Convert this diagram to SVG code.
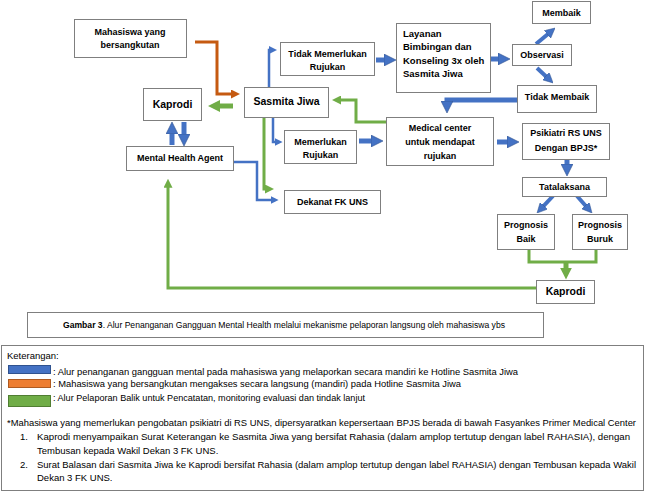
<svg xmlns="http://www.w3.org/2000/svg" width="646" height="493" viewBox="0 0 646 493">
<style>
.box{fill:#fff;stroke:#7f7f7f;stroke-width:1}
text{font-family:"Liberation Sans",Arial,sans-serif;fill:#000}
.lbl{font-size:9px;font-weight:bold;text-anchor:middle}
.big{font-size:10.5px}
.note{font-size:9.5px}
.cb{fill:none;stroke:#4472C4;stroke-width:2.5}
.cg{fill:none;stroke:#70AD47;stroke-width:3}
.co{fill:none;stroke:#C55A11;stroke-width:3}
.tb{fill:none;stroke:#4472C4;stroke-width:5}
.tbd{fill:none;stroke:#4472C4;stroke-width:4}
.tg{fill:none;stroke:#70AD47;stroke-width:5}
</style>
<defs>
<marker id="hB" markerUnits="userSpaceOnUse" markerWidth="8" markerHeight="8" viewBox="0 0 10 10" refX="3" refY="5" orient="auto"><path d="M0,0 L10,5 L0,10 z" fill="#4472C4"/></marker>
<marker id="hG" markerUnits="userSpaceOnUse" markerWidth="9" markerHeight="9" viewBox="0 0 10 10" refX="3" refY="5" orient="auto"><path d="M0,0 L10,5 L0,10 z" fill="#70AD47"/></marker>
<marker id="hO" markerUnits="userSpaceOnUse" markerWidth="9" markerHeight="9" viewBox="0 0 10 10" refX="3" refY="5" orient="auto"><path d="M0,0 L10,5 L0,10 z" fill="#C55A11"/></marker>
<marker id="HB" markerUnits="userSpaceOnUse" markerWidth="12" markerHeight="12" viewBox="0 0 10 10" refX="2" refY="5" orient="auto"><path d="M0,0 L10,5 L0,10 z" fill="#4472C4" stroke="#2F528F" stroke-width="0.5"/></marker>
<marker id="MB" markerUnits="userSpaceOnUse" markerWidth="10" markerHeight="10" viewBox="0 0 10 10" refX="2" refY="5" orient="auto"><path d="M0,0 L10,5 L0,10 z" fill="#4472C4" stroke="#2F528F" stroke-width="0.5"/></marker>
<marker id="HG" markerUnits="userSpaceOnUse" markerWidth="12" markerHeight="12" viewBox="0 0 10 10" refX="2" refY="5" orient="auto"><path d="M0,0 L10,5 L0,10 z" fill="#70AD47"/></marker>
</defs>

<g id="connectors">
<path class="co" d="M195,42 H217 V94 H233.7" marker-end="url(#hO)"/>
<path class="cb" d="M269,87 V50 H271.4" marker-end="url(#hB)"/>
<path class="cb" d="M273,118 V142 H277" marker-end="url(#hB)"/>
<path class="cb" d="M233,162 H257 V200 H273" marker-end="url(#hB)"/>
<path class="cg" d="M386,122 H356 V100 H338.3" marker-end="url(#hG)"/>
<path class="cg" d="M264,118 V189 H267.7" marker-end="url(#hG)"/>
<path class="cg" d="M536,288 H168 V185" marker-end="url(#hG)"/>
<path class="cg" d="M529,249 V262 H596 V249"/>
<path class="tg" d="M566,262 V270" marker-end="url(#HG)"/>
<path class="tg" d="M233,106 H217.6" marker-end="url(#HG)"/>
<path class="tb" d="M376,60 H386.4" marker-end="url(#HB)"/>
<path class="tb" d="M491,59 H500.4" marker-end="url(#HB)"/>
<path class="tb" d="M359,141 H373.4" marker-end="url(#HB)"/>
<path class="tb" d="M497,142 H509.4" marker-end="url(#HB)"/>
<path class="tb" d="M567,160 V166.4" marker-end="url(#HB)"/>
<path class="tb" d="M517,100 H447 V103.4" marker-end="url(#HB)"/>
<path class="tb" d="M172,145 V131.6" marker-end="url(#HB)"/>
<path class="tb" d="M184,122 V136.4" marker-end="url(#HB)"/>
<path class="tbd" d="M536,44 L548.9,33.2" marker-end="url(#MB)"/>
<path class="tbd" d="M537,68 L547.2,77.5" marker-end="url(#MB)"/>
<path class="tbd" d="M553,196 L542.5,207.2" marker-end="url(#MB)"/>
<path class="tbd" d="M577,196 L586.7,207" marker-end="url(#MB)"/>
</g>

<g id="mahasiswa"><rect class="box" x="74.5" y="19.5" width="112" height="38"/><text class="lbl" x="130" y="35.2">Mahasiswa yang</text><text class="lbl" x="130" y="48.2">bersangkutan</text></g>
<g id="kaprodi1"><rect class="box" x="143.5" y="88.5" width="58" height="32"/><text class="lbl big" x="172.5" y="107.8">Kaprodi</text></g>
<g id="sasmita"><rect class="box" x="244.5" y="87.5" width="84" height="30"/><text class="lbl big" x="286.5" y="105.3">Sasmita Jiwa</text></g>
<g id="tidak-memerlukan"><rect class="box" x="280.5" y="42.5" width="94" height="33"/><text class="lbl" x="327.5" y="57.2">Tidak Memerlukan</text><text class="lbl" x="327.5" y="69.5">Rujukan</text></g>
<g id="layanan"><rect class="box" x="396.5" y="23.5" width="94" height="69"/>
<text class="lbl" style="text-anchor:start;font-size:9.5px" x="403" y="36.5">Layanan</text>
<text class="lbl" style="text-anchor:start;font-size:9.5px" x="403" y="50">Bimbingan dan</text>
<text class="lbl" style="text-anchor:start;font-size:9.5px" x="403" y="63.5">Konseling 3x oleh</text>
<text class="lbl" style="text-anchor:start;font-size:9.5px" x="403" y="77">Sasmita Jiwa</text></g>
<g id="observasi"><rect class="box" x="512.5" y="44.5" width="59" height="21"/><text class="lbl" x="542" y="58.2">Observasi</text></g>
<g id="membaik"><rect class="box" x="532.5" y="1.5" width="58" height="22"/><text class="lbl" x="561.5" y="15.5">Membaik</text></g>
<g id="tidak-membaik"><rect class="box" x="517.5" y="85.5" width="79" height="27"/><text class="lbl" x="557" y="100">Tidak Membaik</text></g>
<g id="medical-center"><rect class="box" x="386.5" y="117.5" width="107" height="48"/><text class="lbl" x="440" y="131.4">Medical center</text><text class="lbl" x="440" y="145.2">untuk mendapat</text><text class="lbl" x="440" y="158.6">rujukan</text></g>
<g id="psikiatri"><rect class="box" x="522.5" y="123.5" width="87" height="36"/><text class="lbl" x="566" y="136.4">Psikiatri RS UNS</text><text class="lbl" x="566" y="151">Dengan BPJS*</text></g>
<g id="tatalaksana"><rect class="box" x="522.5" y="177.5" width="84" height="19"/><text class="lbl" x="564.5" y="190">Tatalaksana</text></g>
<g id="prognosis-baik"><rect class="box" x="497.5" y="214.5" width="57" height="35"/><text class="lbl" x="526" y="228.4">Prognosis</text><text class="lbl" x="526" y="241.6">Baik</text></g>
<g id="prognosis-buruk"><rect class="box" x="572.5" y="214.5" width="55" height="35"/><text class="lbl" x="600" y="228.4">Prognosis</text><text class="lbl" x="600" y="241.6">Buruk</text></g>
<g id="kaprodi2"><rect class="box" x="536.5" y="280.5" width="58" height="23"/><text class="lbl big" x="565.5" y="295">Kaprodi</text></g>
<g id="mental-health-agent"><rect class="box" x="126.5" y="146.5" width="107" height="24"/><text class="lbl" x="180" y="161.4">Mental Health Agent</text></g>
<g id="memerlukan"><rect class="box" x="284.5" y="130.5" width="72" height="33"/><text class="lbl" x="320.5" y="145">Memerlukan</text><text class="lbl" x="320.5" y="157.6">Rujukan</text></g>
<g id="dekanat"><rect class="box" x="284.5" y="190.5" width="96" height="23"/><text class="lbl" x="332.5" y="205">Dekanat FK UNS</text></g>

<g id="caption"><rect class="box" x="27.5" y="312.5" width="516" height="25"/>
<text class="note" x="63" y="328" style="font-size:9.2px" textLength="442" lengthAdjust="spacingAndGlyphs"><tspan font-weight="bold">Gambar 3</tspan>. Alur Penanganan Gangguan Mental Health melalui mekanisme pelaporan langsung oleh mahasiswa ybs</text></g>

<g id="keterangan"><rect class="box" x="1.5" y="345.5" width="642" height="145"/>
<text class="note" x="7" y="359">Keterangan:</text>
<rect x="8.5" y="365.5" width="42" height="8" fill="#4472C4" stroke="#2F528F" stroke-width="1"/>
<rect x="8.5" y="379.5" width="42" height="8" fill="#ED7D31" stroke="#AE5A21" stroke-width="1"/>
<rect x="8.5" y="395.5" width="42" height="11" fill="#70AD47" stroke="#507E32" stroke-width="1"/>
<text class="note" x="53" y="374.5" textLength="465" lengthAdjust="spacingAndGlyphs">: Alur penanganan gangguan mental pada mahasiswa yang melaporkan secara mandiri ke Hotline Sasmita Jiwa</text>
<text class="note" x="53" y="387" textLength="408" lengthAdjust="spacingAndGlyphs">: Mahasiswa yang bersangkutan mengakses secara langsung (mandiri) pada Hotline Sasmita Jiwa</text>
<text class="note" x="53" y="400.5" textLength="312" lengthAdjust="spacingAndGlyphs">: Alur Pelaporan Balik untuk Pencatatan, monitoring evaluasi dan tindak lanjut</text>
<text class="note" x="7" y="426" textLength="629" lengthAdjust="spacingAndGlyphs">*Mahasiswa yang memerlukan pengobatan psikiatri di RS UNS, dipersyaratkan kepersertaan BPJS berada di bawah Fasyankes Primer Medical Center</text>
<text class="note" x="20" y="440">1.</text>
<text class="note" x="37" y="440" textLength="593" lengthAdjust="spacingAndGlyphs">Kaprodi menyampaikan Surat Keterangan ke Sasmita Jiwa yang bersifat Rahasia (dalam amplop tertutup dengan label RAHASIA), dengan</text>
<text class="note" x="37" y="453.5">Tembusan kepada Wakil Dekan 3 FK UNS.</text>
<text class="note" x="20" y="467.5">2.</text>
<text class="note" x="37" y="467.5" textLength="599" lengthAdjust="spacingAndGlyphs">Surat Balasan dari Sasmita Jiwa ke Kaprodi bersifat Rahasia (dalam amplop tertutup dengan label RAHASIA) dengan Tembusan kepada Wakil</text>
<text class="note" x="37" y="481">Dekan 3 FK UNS.</text>
</g>
</svg>
